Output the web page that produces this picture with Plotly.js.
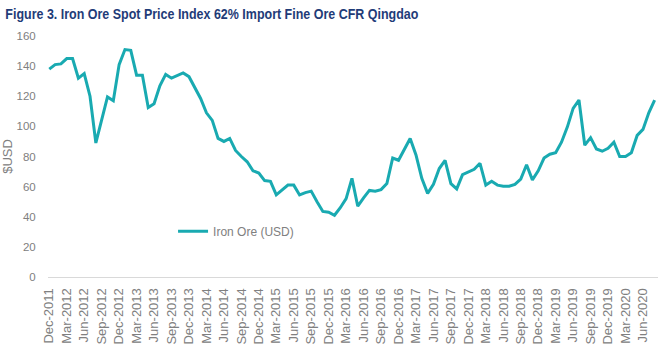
<!DOCTYPE html>
<html>
<head>
<meta charset="utf-8">
<script src="https://cdn.plot.ly/plotly-3.0.1.min.js"></script>
<style>html,body{margin:0;padding:0;background:#fff;}#chart{width:667px;height:354px;}</style>
</head>
<body>
<div id="chart"></div>
<script>
const months = [
 "Dec-2011",
 "Jan-2012","Feb-2012","Mar-2012","Apr-2012","May-2012","Jun-2012","Jul-2012","Aug-2012","Sep-2012","Oct-2012","Nov-2012","Dec-2012",
 "Jan-2013","Feb-2013","Mar-2013","Apr-2013","May-2013","Jun-2013","Jul-2013","Aug-2013","Sep-2013","Oct-2013","Nov-2013","Dec-2013",
 "Jan-2014","Feb-2014","Mar-2014","Apr-2014","May-2014","Jun-2014","Jul-2014","Aug-2014","Sep-2014","Oct-2014","Nov-2014","Dec-2014",
 "Jan-2015","Feb-2015","Mar-2015","Apr-2015","May-2015","Jun-2015","Jul-2015","Aug-2015","Sep-2015","Oct-2015","Nov-2015","Dec-2015",
 "Jan-2016","Feb-2016","Mar-2016","Apr-2016","May-2016","Jun-2016","Jul-2016","Aug-2016","Sep-2016","Oct-2016","Nov-2016","Dec-2016",
 "Jan-2017","Feb-2017","Mar-2017","Apr-2017","May-2017","Jun-2017","Jul-2017","Aug-2017","Sep-2017","Oct-2017","Nov-2017","Dec-2017",
 "Jan-2018","Feb-2018","Mar-2018","Apr-2018","May-2018","Jun-2018","Jul-2018","Aug-2018","Sep-2018","Oct-2018","Nov-2018","Dec-2018",
 "Jan-2019","Feb-2019","Mar-2019","Apr-2019","May-2019","Jun-2019","Jul-2019","Aug-2019","Sep-2019","Oct-2019","Nov-2019","Dec-2019",
 "Jan-2020","Feb-2020","Mar-2020","Apr-2020","May-2020","Jun-2020","Jul-2020","Aug-2020"
];

const ironOre = [
 138,
 141,141.5,145,145,132,135,120,89,105,119.5,117,141,
 151,150.5,134,134,112.5,115,127,134.5,132,134,135.5,133,
 126,118.5,109,104,92,90,92,84,80,76.5,70.5,69,
 64,63.5,54.5,58,61,61,54.5,56,57,50,43.5,43,
 41,46,52,65.5,47,52.5,57.5,57,58,62,79,77.5,
 85,92,81,65.5,55.5,61.5,72,77.5,62,58.5,68,70,
 71.5,75.5,61,63.5,61,60.3,60.3,61.5,65,74.5,64.5,70.5,
 79,81.5,82.5,89.5,99.5,112,117.5,87.5,92.5,85,83.5,85.5,
 89.5,80,80,82.5,94,98,109,117.5
];

const tickLabels = ["Dec-2011","Mar-2012","Jun-2012","Sep-2012","Dec-2012","Mar-2013","Jun-2013","Sep-2013","Dec-2013","Mar-2014","Jun-2014","Sep-2014","Dec-2014","Mar-2015","Jun-2015","Sep-2015","Dec-2015","Mar-2016","Jun-2016","Sep-2016","Dec-2016","Mar-2017","Jun-2017","Sep-2017","Dec-2017","Mar-2018","Jun-2018","Sep-2018","Dec-2018","Mar-2019","Jun-2019","Sep-2019","Dec-2019","Mar-2020","Jun-2020"];

const seriesName = "Iron Ore (USD)";
const chartTitle = "Figure 3. Iron Ore Spot Price Index 62% Import Fine Ore CFR Qingdao";

const trace = {
  x: months, y: ironOre, type: "scatter", mode: "lines", name: seriesName,
  line: {color: "#19AAB1", width: 3}, showlegend: true
};

const layout = {
  width: 667, height: 354,
  margin: {l: 48, r: 9, t: 36, b: 77},
  paper_bgcolor: "#ffffff", plot_bgcolor: "#ffffff",
  font: {family: "Liberation Sans, Arial, sans-serif", color: "#7F7F7F"},
  title: {
    text: "<b>" + chartTitle + "</b>",
    font: {family: "Liberation Sans, Arial, sans-serif", size: 15, color: "#1F3C78"},
    x: 0.008, xanchor: "left", xref: "container", y: 0.96, yanchor: "middle", yref: "container"
  },
  xaxis: {
    type: "category", range: [-0.22, 104.58],
    tickvals: tickLabels, ticktext: tickLabels, tickangle: -90,
    tickfont: {size: 13, color: "#808080"},
    showgrid: false, zeroline: false, showline: true, linecolor: "#D9D9D9", linewidth: 1,
    ticks: "outside", ticklen: 5, tickcolor: "rgba(0,0,0,0)"
  },
  yaxis: {
    range: [0, 160], dtick: 20, tick0: 0,
    tickfont: {size: 11.5, color: "#808080"},
    showgrid: false, zeroline: false, showline: false,
    ticks: "outside", ticklen: 9, tickcolor: "rgba(0,0,0,0)",
    title: {text: "$USD", font: {size: 13, color: "#808080"}, standoff: 6}
  },
  legend: {
    x: 0.205, xanchor: "left", y: 0.19, yanchor: "middle",
    font: {size: 12, color: "#808080"}, bgcolor: "rgba(0,0,0,0)", borderwidth: 0
  }
};

Plotly.newPlot("chart", [trace], layout, {displayModeBar: false, staticPlot: true}).then(function (gd) {
  // condense the title horizontally to mimic the narrow face of the original
  const t = gd.querySelector(".g-gtitle text.gtitle");
  if (t) {
    t.setAttribute("textLength", "413");
    t.setAttribute("lengthAdjust", "spacingAndGlyphs");
  }
});
</script>
</body>
</html>
